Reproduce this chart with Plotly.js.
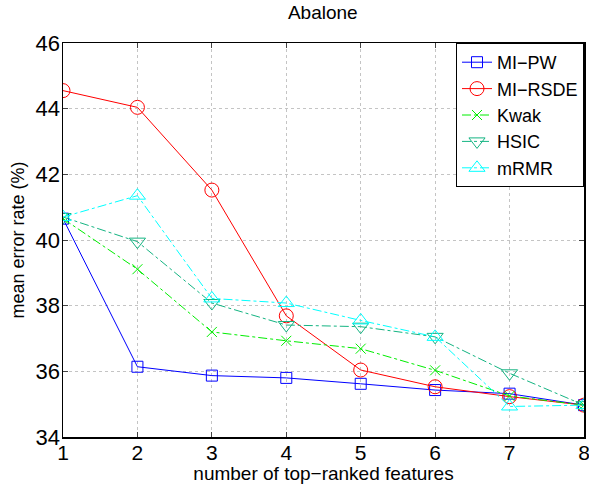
<!DOCTYPE html>
<html><head><meta charset="utf-8">
<script src="https://cdn.plot.ly/plotly-3.0.1.min.js"></script>
<style>body{margin:0;padding:0;background:#fff}#chart{width:589px;height:484px}</style>
</head><body><div id="chart"></div>
<script>
var features = [1, 2, 3, 4, 5, 6, 7, 8];
var miPW   = [40.65, 36.14, 35.87, 35.80, 35.62, 35.43, 35.32, 34.97];
var miRSDE = [44.55, 44.04, 41.52, 37.69, 36.04, 35.53, 35.23, 34.97];
var kwak   = [40.65, 39.11, 37.20, 36.93, 36.69, 36.03, 35.25, 34.97];
var hsic   = [40.70, 39.95, 38.08, 37.41, 37.36, 37.05, 35.94, 34.97];
var mrmr   = [40.70, 41.35, 38.22, 38.08, 37.55, 37.05, 34.93, 34.97];
var seriesNames = ['MI\u2212PW', 'MI\u2212RSDE', 'Kwak', 'HSIC', 'mRMR'];
var xTicks = [1, 2, 3, 4, 5, 6, 7, 8];
var yTicks = [34, 36, 38, 40, 42, 44, 46];

function tr(y, name, color, symbol, size, dash) {
  return {x: features, y: y, name: name, type: 'scatter', mode: 'lines+markers',
    line: {color: color, width: 1, dash: dash},
    marker: {symbol: symbol, size: size, color: color, line: {color: color, width: 1}}};
}
var data = [
  tr(miPW, seriesNames[0], '#0000ff', 'square-open', 11, 'solid'),
  tr(miRSDE, seriesNames[1], '#ff0000', 'circle-open', 14, 'solid'),
  tr(kwak, seriesNames[2], '#00ee00', 'x-thin-open', 10, 'dashdot'),
  tr(hsic, seriesNames[3], '#14b482', 'triangle-down-open', 14, 'dashdot'),
  tr(mrmr, seriesNames[4], '#00ffff', 'triangle-up-open', 14, 'dashdot')
];
var font = {family: 'Liberation Sans, Arial, sans-serif', color: '#000'};
var layout = {
  width: 589, height: 484,
  margin: {l: 63, r: 5, t: 43, b: 47},
  paper_bgcolor: '#fff', plot_bgcolor: '#fff',
  font: font,
  title: {text: 'Abalone', font: {family: font.family, size: 19, color: '#000'}, x: 0.548, xanchor: 'center', y: 0.988, yanchor: 'top'},
  xaxis: {range: [1, 8], tickvals: xTicks, ticktext: xTicks.map(String), ticks: 'inside', ticklen: 5,
    showline: true, linecolor: '#000', linewidth: 1.5, mirror: 'ticks', showgrid: true,
    gridcolor: '#c4c4c4', griddash: 'dot', gridwidth: 1, zeroline: false,
    tickfont: {size: 21, color: '#000'}, ticklabeloverflow: 'allow', ticklabelstandoff: -4,
    title: {text: 'number of top\u2212ranked features', font: {size: 19, color: '#000'}, standoff: 10}},
  yaxis: {range: [34, 46], tickvals: yTicks, ticktext: yTicks.map(String), ticks: 'inside', ticklen: 5,
    showline: true, linecolor: '#000', linewidth: 1.5, mirror: 'ticks', showgrid: true,
    gridcolor: '#c4c4c4', griddash: 'dot', gridwidth: 1, zeroline: false,
    tickfont: {size: 22, color: '#000'}, ticklabelstandoff: -3,
    title: {text: 'mean error rate (%)', font: {size: 18, color: '#000'}, standoff: 6}},
  showlegend: true,
  legend: {x: 1, y: 1, xanchor: 'right', yanchor: 'top', bgcolor: '#fff', bordercolor: '#000', borderwidth: 1,
    font: {size: 18, color: '#000'}, tracegroupgap: 0, itemwidth: 30}
};
Plotly.newPlot('chart', data, layout, {displayModeBar: false, staticPlot: true});
</script></body></html>
